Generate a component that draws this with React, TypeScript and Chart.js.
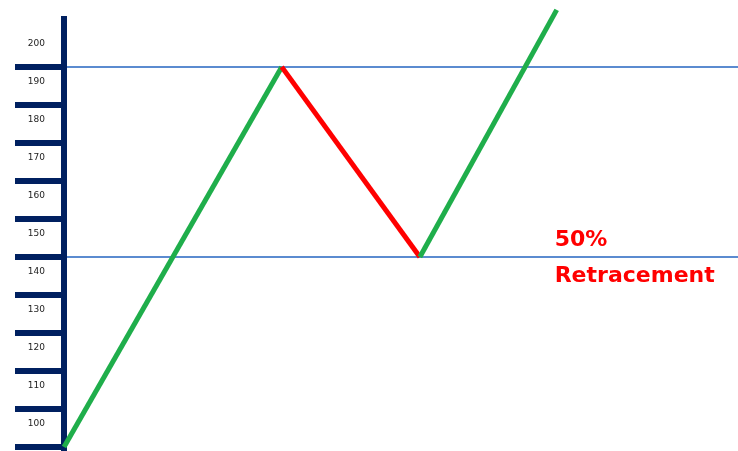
import { useEffect, useRef } from "react";
import { Chart, registerables } from "chart.js";

Chart.register(...registerables);

// Price path: rally, pull-back to the 50% level, then breakout
const steps = [0, 32.3, 52.8, 73.1];
const prices = [90, 190, 140, 205];

// Horizontal reference levels (swing high and 50% retracement)
const levelValues = [190, 140];

// Axis ticks
const tickValues = [90, 100, 110, 120, 130, 140, 150, 160, 170, 180, 190, 200];
const hiddenMarkValue = 200;
const hiddenLabelValue = 90;

// Annotation text placed at the retracement level
const noteLines = ["50%", "Retracement"];
const noteX = 72.8;

const NAVY = "#002060";
const GREEN = "#1FAE4B";
const RED = "#FF0000";
const LEVEL_BLUE = "#5B8BD0";

const notePlugin = {
  id: "retracementNote",
  afterDatasetsDraw(chart: any) {
    const { ctx, scales } = chart;
    const px = scales.x.getPixelForValue(noteX);
    const py = scales.y.getPixelForValue(levelValues[1]);
    ctx.save();
    ctx.fillStyle = RED;
    ctx.font = 'bold 22px "DejaVu Sans"';
    ctx.textAlign = "left";
    ctx.textBaseline = "alphabetic";
    ctx.fillText(noteLines[0], px, py - 11);
    ctx.fillText(noteLines[1], px, py + 25);
    ctx.restore();
  },
};

export default function App() {
  const canvasRef = useRef<HTMLCanvasElement | null>(null);

  useEffect(() => {
    if (!canvasRef.current) return;
    const chart = new Chart(canvasRef.current, {
      type: "line",
      data: {
        datasets: [
          {
            data: steps.map((s, i) => ({ x: s, y: prices[i] })),
            borderWidth: 5,
            borderColor: GREEN,
            borderCapStyle: "butt",
            pointRadius: 0,
            tension: 0,
            clip: false as any,
            segment: {
              borderColor: (c: any) => (c.p1.parsed.y < c.p0.parsed.y ? RED : GREEN),
            },
          },
        ],
      },
      options: {
        animation: false,
        responsive: false,
        devicePixelRatio: 1,
        layout: { padding: { top: 19, left: 0, right: 0, bottom: 0 } },
        plugins: {
          legend: { display: false },
          tooltip: { enabled: false },
        },
        scales: {
          x: {
            type: "linear",
            display: false,
            min: 0,
            max: 100,
          },
          y: {
            type: "linear",
            min: 88.95,
            max: 202.6,
            afterBuildTicks: (scale: any) => {
              scale.ticks = tickValues.map((v) => ({ value: v }));
            },
            afterFit: (scale: any) => {
              scale.width = 64;
            },
            border: { display: true, color: NAVY, width: 6 },
            grid: {
              drawOnChartArea: true,
              drawTicks: true,
              tickLength: 49,
              tickWidth: 6,
              lineWidth: 2,
              color: (c: any) =>
                c.tick && levelValues.includes(c.tick.value) ? LEVEL_BLUE : "rgba(0,0,0,0)",
              tickColor: (c: any) =>
                c.tick && c.tick.value === hiddenMarkValue ? "rgba(0,0,0,0)" : NAVY,
            },
            ticks: {
              autoSkip: false,
              padding: -30,
              labelOffset: 15,
              crossAlign: "near",
              color: "#222222",
              font: { family: "DejaVu Sans", size: 9 },
              callback: (v: any) => (v === hiddenLabelValue ? "" : String(v)),
            },
          },
        },
      },
      plugins: [notePlugin],
    });
    return () => chart.destroy();
  }, []);

  return (
    <div style={{ position: "fixed", left: 0, top: 0, width: 738, height: 451, background: "#ffffff" }}>
      <canvas ref={canvasRef} width={738} height={451} style={{ display: "block" }} />
    </div>
  );
}
